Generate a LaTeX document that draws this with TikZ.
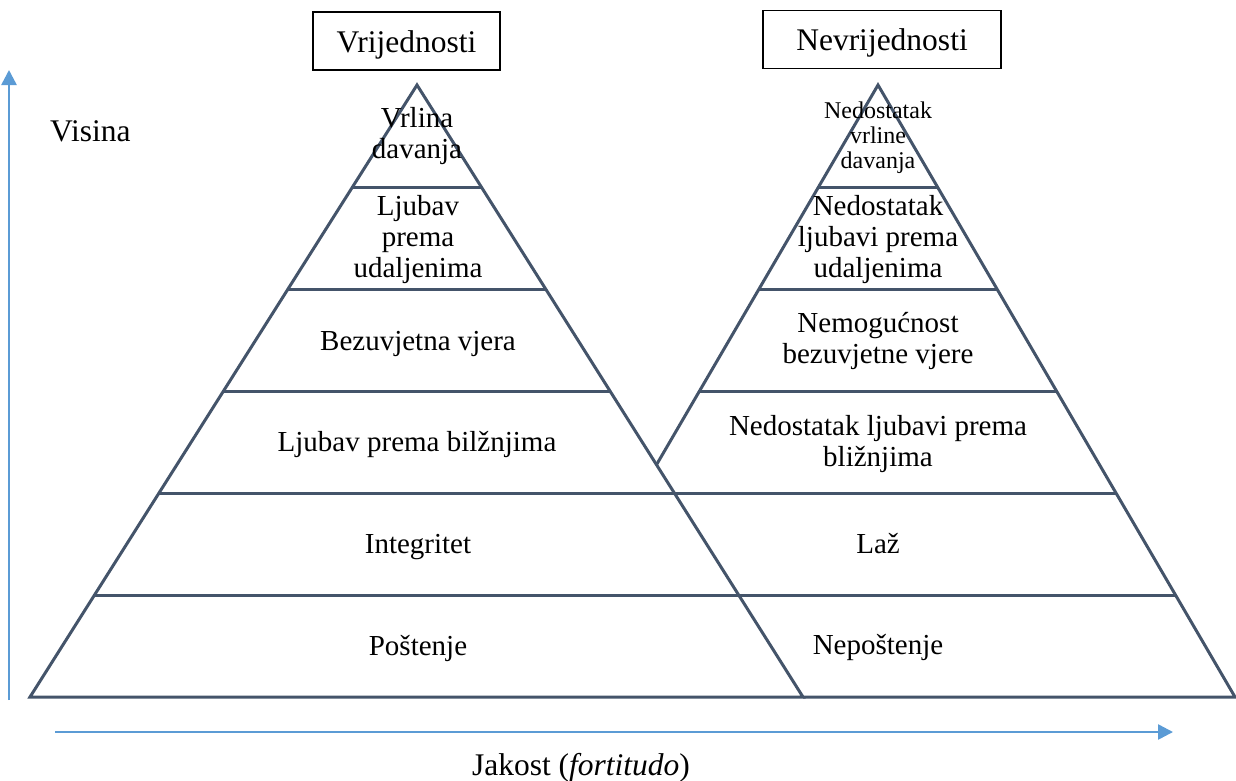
\documentclass[tikz,border=0pt]{standalone}
\usepackage{fontspec}
\setmainfont{Liberation Serif}
\usetikzlibrary{arrows.meta,calc}
\definecolor{pyr}{HTML}{44546A}
\definecolor{axiscol}{HTML}{5B9BD5}
\begin{document}
\begin{tikzpicture}[x=1pt,y=-1pt,
  pyrline/.style={draw=pyr,line width=3pt,line join=miter},
  axisarrow/.style={draw=axiscol,line width=2.5pt,-{Triangle[length=15pt,width=15pt]}},
  body/.style={font=\fontsize{29pt}{31pt}\selectfont,align=center,inner sep=0pt},
  smalltxt/.style={font=\fontsize{24pt}{25pt}\selectfont,align=center,inner sep=0pt},
  head/.style={draw=black,line width=1.5pt,font=\fontsize{31.5pt}{34pt}\selectfont,minimum height=58pt,text height=26pt,text depth=4pt,inner sep=0pt},
  axislabel/.style={font=\fontsize{31.5pt}{34pt}\selectfont,inner sep=0pt},
]
\useasboundingbox (0,0) rectangle (1236,780);

% pyramid corners
\coordinate (LA) at (417,85);
\coordinate (LL) at (30,697);
\coordinate (LR) at (803,697);
\coordinate (RA) at (878,85);
\coordinate (RR) at (1235,697);
\coordinate (RL) at (521,697);
\coordinate (X) at (intersection of LA--LR and RA--RL);

% left pyramid
\draw[pyrline] (LA) -- (LL) -- (LR) -- cycle;
% right pyramid
\draw[pyrline] (X) -- (RA) -- (RR) -- (LR);
% levels
\foreach \k in {1,2,3} {
  \draw[pyrline] ($(LA)!\k/6!(LL)$) -- ($(LA)!\k/6!(LR)$);
  \draw[pyrline] ($(RA)!\k/6!(RL)$) -- ($(RA)!\k/6!(RR)$);
}
\foreach \k in {4,5} {
  \draw[pyrline] ($(LA)!\k/6!(LL)$) -- ($(RA)!\k/6!(RR)$);
}

% headers
\node[head,minimum width=187pt] (hv) at (406.5,41) {Vrijednosti};
\node[head,minimum width=238pt] (hn) at (882,39.5) {Nevrijednosti};

% left texts
\node[body] (l6) at (417,136) {Vrlina\\davanja};
\node[body] (l5) at (418,240) {Ljubav\\prema\\udaljenima};
\node[body,anchor=base] (l4) at (418,350) {Bezuvjetna vjera};
\node[body,anchor=base] (l3) at (417,451) {Ljubav prema bilžnjima};
\node[body,anchor=base] (l2) at (418,553) {Integritet};
\node[body,anchor=base] (l1) at (418,655) {Poštenje};

% right texts
\node[smalltxt] (r6) at (878,138) {Nedostatak\\vrline\\davanja};
\node[body] (r5) at (878,240) {Nedostatak\\ljubavi prema\\udaljenima};
\node[body] (r4) at (878,341) {Nemogućnost\\bezuvjetne vjere};
\node[body] (r3) at (878,444) {Nedostatak ljubavi prema\\bližnjima};
\node[body,anchor=base] (r2) at (878,553) {Laž};
\node[body,anchor=base] (r1) at (878,654) {Nepoštenje};

% axes
\coordinate (v0) at (9,700);
\coordinate (v1) at (9,70);
\draw[axisarrow] (v0) -- (v1);
\coordinate (h0) at (55,732);
\coordinate (h1) at (1173,732);
\draw[axisarrow] (h0) -- (h1);
\node[axislabel,anchor=base west] (vis) at (50,141) {Visina};
\node[axislabel,anchor=base] (jak) at (581,775) {Jakost (\textit{fortitudo})};
\end{tikzpicture}
\end{document}
